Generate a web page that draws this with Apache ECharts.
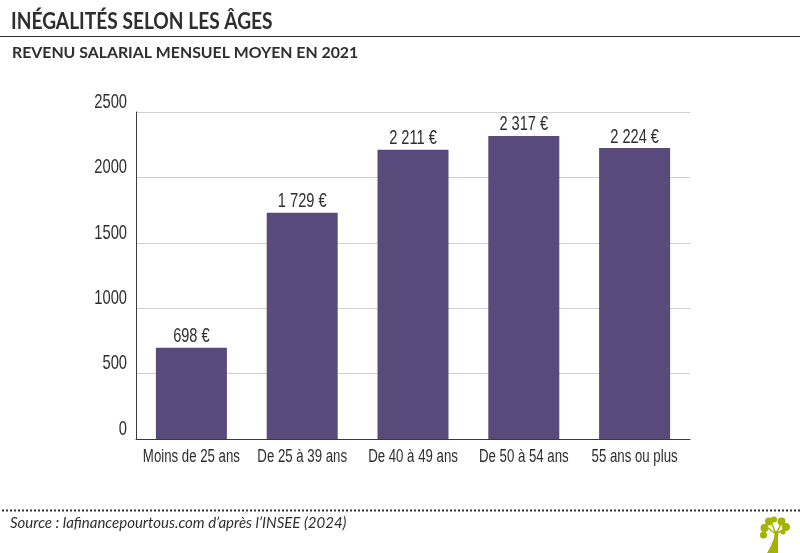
<!DOCTYPE html>
<html><head><meta charset="utf-8">
<style>html,body{margin:0;padding:0;background:#fff}#c{width:800px;height:553px}</style>
<script src="https://cdn.jsdelivr.net/npm/echarts@6/dist/echarts.min.js"></script>
</head><body><div id="c"></div>
<script>
const categories = ["Moins de 25 ans","De 25 à 39 ans","De 40 à 49 ans","De 50 à 54 ans","55 ans ou plus"];
const values = [698,1729,2211,2317,2224];
const valueLabels = ["698 €","1 729 €","2 211 €","2 317 €","2 224 €"];
const yTicks = [0,500,1000,1500,2000,2500];
const titleText = "INÉGALITÉS SELON LES ÂGES";
const subtitleText = "REVENU SALARIAL MENSUEL MOYEN EN 2021";
const sourceText = "Source : lafinancepourtous.com d’après l’INSEE (2024)";
const sans = '"Liberation Sans",sans-serif';
const head = 'Lato,"Open Sans",sans-serif';
const green = '#a3b300';
const ink = '#2e2e2e';
function narrowText(x,y,text,size,scale,align){
  return {type:'text',x:x,y:y,scaleX:scale,silent:true,
    style:{text:text,fontFamily:sans,fontSize:size,fill:ink,textAlign:align,textVerticalAlign:'middle'}};
}
const chart = echarts.init(document.getElementById('c'),null,{renderer:'canvas'});
chart.setOption({
  animation:false,
  grid:{left:136,right:110,top:112,bottom:114,containLabel:false},
  xAxis:{type:'category',data:categories,
    axisLine:{lineStyle:{color:'#3a3a3a',width:1}},axisTick:{show:false},axisLabel:{show:false}},
  yAxis:{type:'value',min:0,max:2500,interval:500,
    axisLine:{show:true,lineStyle:{color:'#3a3a3a',width:1}},axisTick:{show:false},
    splitLine:{lineStyle:{color:'#d0d0d0',width:1}},axisLabel:{show:false}},
  series:[
    {type:'bar',data:values,barWidth:71,itemStyle:{color:'#584a7b'}},
    {type:'custom',clip:false,silent:true,data:values.map((v,i)=>[i,v]),z:5,
     renderItem:(p,api)=>{
       const i=api.value(0),c=api.coord([i,api.value(1)]);
       return narrowText(c[0],c[1]-11,valueLabels[i],20,0.73,'center');
     }},
    {type:'custom',clip:false,silent:true,data:categories.map((n,i)=>[i,0]),z:5,
     renderItem:(p,api)=>{
       const i=api.value(0),c=api.coord([i,0]);
       return narrowText(c[0],c[1]+18,categories[i],18,0.735,'center');
     }},
    {type:'custom',clip:false,silent:true,data:yTicks.map(v=>[0,v]),z:5,
     renderItem:(p,api)=>{
       const v=api.value(1),c=api.coord([0,v]);
       return narrowText(127,c[1]-10,String(v),21,0.7,'right');
     }}
  ],
  graphic:[
    {type:'text',x:11,y:11,scaleX:0.87,style:{text:titleText,font:'700 22px '+head,fill:ink}},
    {type:'line',shape:{x1:0,y1:36.5,x2:800,y2:36.5},style:{stroke:ink,lineWidth:1}},
    {type:'text',x:12,y:45,scaleX:0.99,style:{text:subtitleText,font:'700 16px '+head,fill:ink}},
    {type:'line',shape:{x1:2,y1:510.5,x2:800,y2:510.5},style:{stroke:'#333',lineWidth:2,lineDash:[2,2]}},
    {type:'text',x:10,y:516,style:{text:sourceText,font:'italic 15px '+head,fill:ink}},
    {type:'group',children:[
      {type:'polygon',shape:{points:[[767,553],[771,546],[774,538],[775,531],[778,531],[778,540],[778,553]]},style:{fill:green}},
      {type:'line',shape:{x1:776,y1:534,x2:768,y2:528},style:{stroke:green,lineWidth:1.5}},
      {type:'line',shape:{x1:776,y1:534,x2:772,y2:524},style:{stroke:green,lineWidth:1.5}},
      {type:'line',shape:{x1:776,y1:534,x2:781,y2:524},style:{stroke:green,lineWidth:1.5}},
      {type:'line',shape:{x1:776,y1:534,x2:786,y2:528},style:{stroke:green,lineWidth:1.5}},
      {type:'circle',shape:{cx:763.5,cy:535,r:3.5},style:{fill:green}},
      {type:'circle',shape:{cx:764.5,cy:528,r:4},style:{fill:green}},
      {type:'circle',shape:{cx:769,cy:521.5,r:4},style:{fill:green}},
      {type:'circle',shape:{cx:774,cy:519.5,r:3},style:{fill:green}},
      {type:'circle',shape:{cx:781.5,cy:521.5,r:4},style:{fill:green}},
      {type:'circle',shape:{cx:786,cy:527,r:4},style:{fill:green}},
      {type:'circle',shape:{cx:783,cy:532,r:2.5},style:{fill:green}}
    ]}
  ]
});
</script></body></html>
